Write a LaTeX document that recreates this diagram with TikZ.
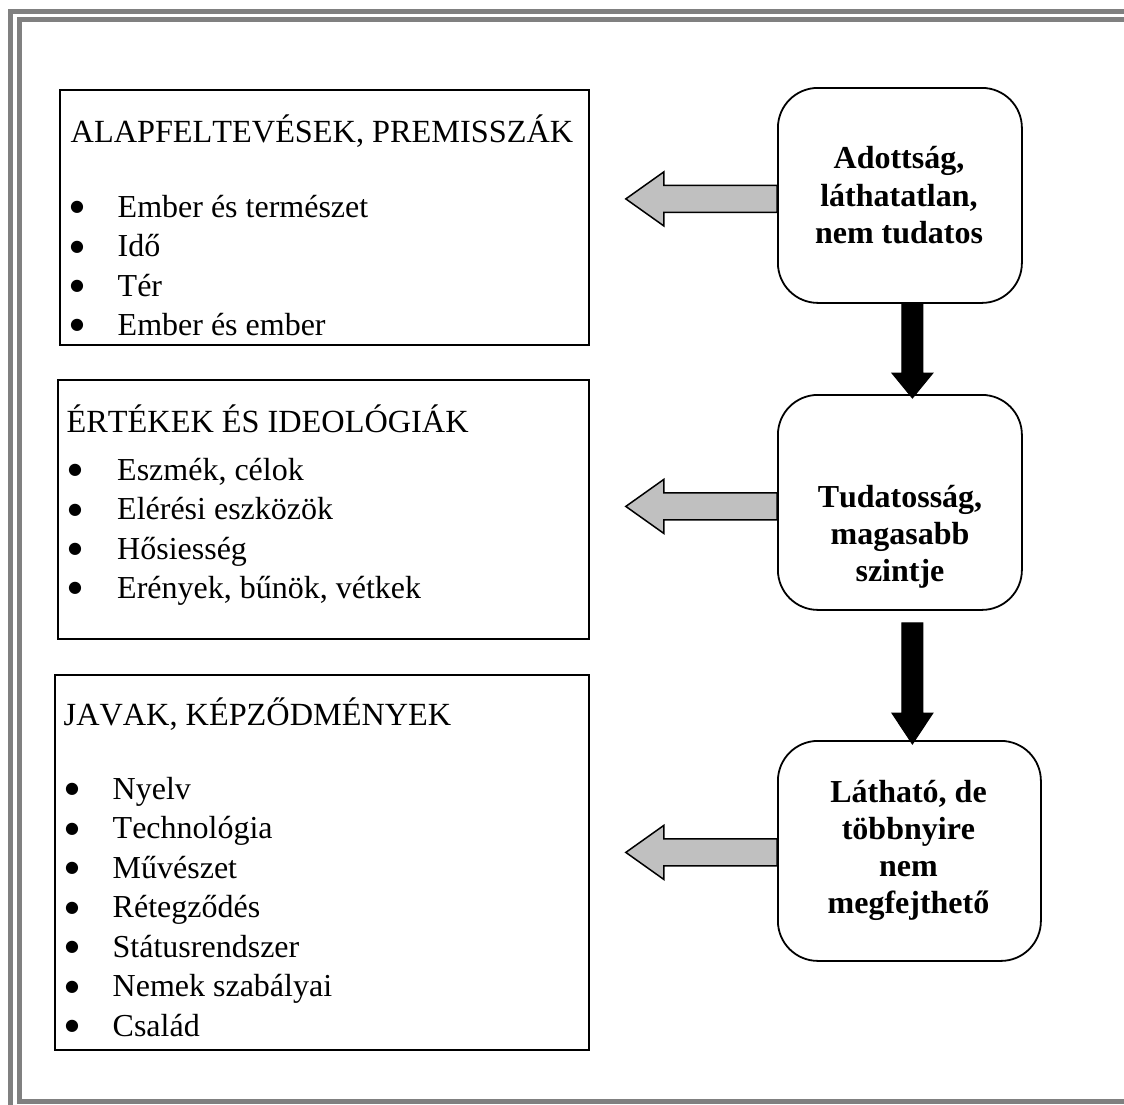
\documentclass[tikz,border=0pt]{standalone}
\usepackage{fontspec}
\setmainfont[Kerning=Off]{Liberation Serif}
\newfontfamily\symfont{DejaVu Sans}
\usetikzlibrary{calc}
\definecolor{framegray}{HTML}{808080}
\definecolor{arrowgray}{HTML}{C0C0C0}
% gray block arrow pointing left: #1 tip coordinate, #2 source box
\newcommand\myleftarrow[2]{%
  \draw[grayarr] (#1) -- ++(38,-27) -- ++(0,13.5)
    -- ($(#1 -| #2.west)+(0,-13.5)$) -- ($(#1 -| #2.west)+(0,13.5)$)
    -- ($(#1)+(38,13.5)$) -- ++(0,13.5) -- cycle;}
% black block arrow pointing down: #1 start, #2 tip, #3 head length
\newcommand\mydownarrow[3]{%
  \draw[blackarr] ($(#1)+(-10.5,0)$) -- ($(#2)+(-10.5,-#3)$) -- ($(#2)+(-20.5,-#3)$)
    -- (#2) -- ($(#2)+(20.5,-#3)$) -- ($(#2)+(10.5,-#3)$) -- ($(#1)+(10.5,0)$) -- cycle;}
\begin{document}
\begin{tikzpicture}[x=1pt,y=-1pt,
  frame/.style={draw=framegray, line width=5pt},
  lbox/.style={draw, line width=1.8pt, anchor=north west, inner sep=0pt},
  rbox/.style={draw, line width=1.8pt, rounded corners=40pt, anchor=north west, inner sep=0pt},
  hd/.style={anchor=base west, inner sep=0pt, font=\fontsize{32.3}{38}\selectfont},
  itm/.style={anchor=base west, inner sep=0pt, font=\fontsize{32}{38}\selectfont},
  bul/.style={anchor=center, inner sep=0pt, font=\symfont\fontsize{16}{16}\selectfont},
  rtxt/.style={anchor=base, inner sep=0pt, font=\fontsize{32}{37}\selectfont\bfseries},
  grayarr/.style={draw, line width=1.5pt, fill=arrowgray, line join=miter},
  blackarr/.style={draw, line width=1pt, fill=black}]
\useasboundingbox (0,0) rectangle (1124,1104);
\clip (0,0) rectangle (1124,1104);
% double frame
\draw[frame] (10.5,11.5) rectangle (1170,1170);
\draw[frame] (19,19.5) rectangle (1150,1101.5);

% left boxes
\node[lbox, minimum width=529pt, minimum height=255pt] (b1) at (59,89) {};
\node[lbox, minimum width=531pt, minimum height=259pt] (b2) at (57,379) {};
\node[lbox, minimum width=534pt, minimum height=375pt] (b3) at (54,674) {};

% right rounded boxes
\node[rbox, minimum width=244pt, minimum height=215pt] (rb1) at (777,87) {};
\node[rbox, minimum width=244pt, minimum height=215pt] (rb2) at (777,394) {};
\node[rbox, minimum width=263pt, minimum height=220pt] (rb3) at (777,740) {};

% texts of left boxes
\node[hd] (h1) at (70.5,142) {ALAPFELTEVÉSEK, PREMISSZÁK};
\foreach \txt/\yy [count=\i] in {{Ember és természet}/217,{Idő}/256.5,{Tér}/296,{Ember és ember}/335}{
  \node[bul] (b1d\i) at (77,\yy-9.5) {●};
  \node[itm] (b1i\i) at (117.5,\yy) {\txt};
}
\node[hd] (h2) at (66.5,432) {ÉRTÉKEK ÉS IDEOLÓGIÁK};
\foreach \txt/\yy [count=\i] in {{Eszmék, célok}/480,{Elérési eszközök}/519.5,{Hősiesség}/559,{Erények, bűnök, vétkek}/598}{
  \node[bul] (b2d\i) at (75,\yy-9.5) {●};
  \node[itm] (b2i\i) at (117,\yy) {\txt};
}
\node[hd] (h3) at (63.5,725) {JAVAK, KÉPZŐDMÉNYEK};
\foreach \txt/\yy [count=\i] in {{Nyelv}/799,{Technológia}/838.5,{Művészet}/878,{Rétegződés}/917.5,{Státusrendszer}/957,{Nemek szabályai}/996.5,{Család}/1036}{
  \node[bul] (b3d\i) at (72,\yy-9.5) {●};
  \node[itm] (b3i\i) at (112.5,\yy) {\txt};
}

% texts of rounded boxes
\node[rtxt] (r1a) at (899,168) {Adottság,};
\node[rtxt] (r1b) at (899,206) {láthatatlan,};
\node[rtxt] (r1c) at (899,243) {nem tudatos};
\node[rtxt] (r2a) at (900,507) {Tudatosság,};
\node[rtxt] (r2b) at (900,544) {magasabb};
\node[rtxt] (r2c) at (900,581) {szintje};
\node[rtxt] (r3a) at (908.5,802) {Látható, de};
\node[rtxt] (r3b) at (908.5,839) {többnyire};
\node[rtxt] (r3c) at (908.5,876) {nem};
\node[rtxt] (r3d) at (908.5,913) {megfejthető};

% gray arrows
\coordinate (t1) at ($(b1.east |- rb1.west)+(36,3.5)$);
\coordinate (t2) at ($(b2.east |- rb2.west)+(36,4)$);
\coordinate (t3) at ($(b3.east |- rb3.west)+(36,1.5)$);
\myleftarrow{t1}{rb1}
\myleftarrow{t2}{rb2}
\myleftarrow{t3}{rb3}

% black arrows
\coordinate (a1s) at ($(rb1.south)+(12.5,0)$);
\coordinate (a1t) at ($(rb2.north)+(12.5,4)$);
\coordinate (a2s) at ($(rb2.south)+(12.5,12)$);
\coordinate (a2t) at ($(rb3.north)+(3,4)$);
\mydownarrow{a1s}{a1t}{25}
\mydownarrow{a2s}{a2t}{31}
\end{tikzpicture}
\end{document}
